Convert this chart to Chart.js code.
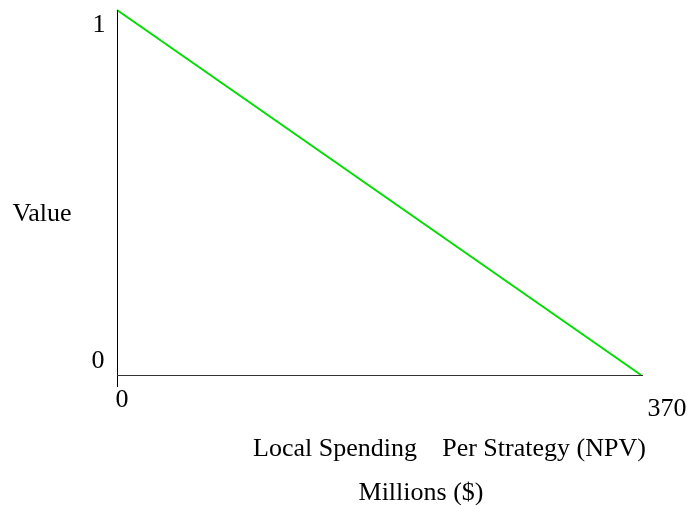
<!DOCTYPE html>
<html>
<head>
<meta charset="utf-8">
<script src="https://cdn.jsdelivr.net/npm/chart.js@4.4.0/dist/chart.umd.min.js"></script>
<style>
  html, body { margin: 0; padding: 0; background: #ffffff; }
  #wrap { width: 689px; height: 505px; position: relative; }
</style>
</head>
<body>
<div id="wrap"><canvas id="c" width="689" height="505"></canvas></div>
<script>
// Data
const xValues = [0, 370];
const yValues = [1, 0];
const xTickLabels = ['0', '370'];
const yTickLabels = ['0', '1'];
const yTitle = 'Value';
const xTitleParts = ['Local Spending', 'Per Strategy (NPV)'];
const xTitleLine2 = 'Millions ($)';

const points = xValues.map((x, i) => ({ x: x, y: yValues[i] }));

const FONT = '"Liberation Serif", "Times New Roman", serif';

const decor = {
  id: 'decor',
  afterDraw(chart) {
    const ctx = chart.ctx;
    const xs = chart.scales.x, ys = chart.scales.y;
    const x0 = xs.getPixelForValue(xValues[0]);
    const x1 = xs.getPixelForValue(370);
    const y0 = ys.getPixelForValue(0);
    const y1 = ys.getPixelForValue(1);
    ctx.save();
    // axes
    ctx.strokeStyle = '#000000';
    ctx.lineWidth = 1;
    ctx.beginPath();
    ctx.moveTo(x0 + 0.5, y1);
    ctx.lineTo(x0 + 0.5, y0 + 12);
    ctx.stroke();
    ctx.strokeStyle = '#333333';
    ctx.beginPath();
    ctx.moveTo(x0, y0 + 0.5);
    ctx.lineTo(x1 + 2, y0 + 0.5);
    ctx.stroke();
    // tick labels
    ctx.fillStyle = '#000000';
    ctx.font = '26px ' + FONT;
    ctx.textAlign = 'center';
    ctx.textBaseline = 'alphabetic';
    ctx.fillText(yTickLabels[1], x0 - 18, y1 + 22);
    ctx.fillText(yTickLabels[0], x0 - 19, y0 - 7);
    ctx.fillText(xTickLabels[0], x0 + 5, y0 + 32);
    ctx.fillText(xTickLabels[1], x1 + 26, y0 + 41);
    // titles
    ctx.font = '26px ' + FONT;
    ctx.fillText(yTitle, 42, 221);
    ctx.fillText(xTitleParts[0], 335, 456);
    ctx.fillText(xTitleParts[1], 544, 456);
    ctx.fillText(xTitleLine2, 421, 500);
    ctx.restore();
  }
};

new Chart(document.getElementById('c'), {
  type: 'line',
  data: {
    datasets: [{
      data: points,
      borderColor: '#00dd00',
      borderWidth: 2,
      pointRadius: 0,
      fill: false,
      tension: 0,
      clip: false
    }]
  },
  options: {
    responsive: false,
    animation: false,
    layout: { padding: { left: 117, top: 10, right: 48, bottom: 130 } },
    plugins: { legend: { display: false }, tooltip: { enabled: false } },
    scales: {
      x: { type: 'linear', min: 0, max: 370, display: false },
      y: { type: 'linear', min: 0, max: 1, display: false }
    }
  },
  plugins: [decor]
});
</script>
</body>
</html>
